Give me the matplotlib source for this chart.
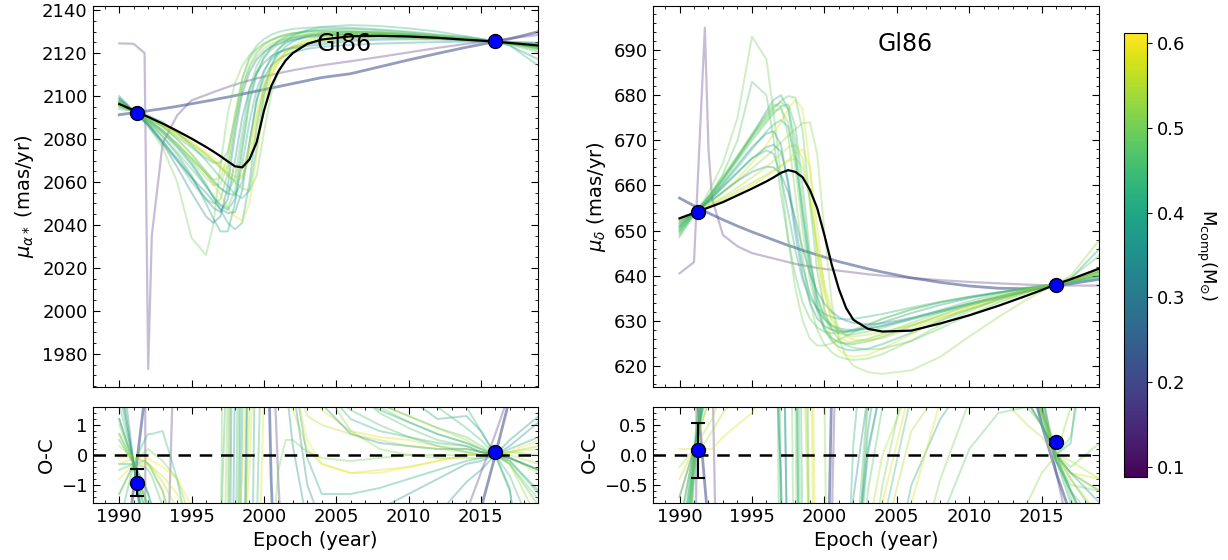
import matplotlib.pyplot as plt
import numpy as np
from matplotlib import cm, colors
from matplotlib.ticker import AutoMinorLocator, MultipleLocator

epoch = [1990, 1991, 1991.75, 1992, 1992.25, 1993, 1994, 1995, 1996, 1996.5,
         1997, 1997.5, 1998, 1998.5, 1999, 1999.5, 2000, 2000.5, 2001, 2001.5,
         2002, 2003, 2004, 2006, 2008, 2010, 2012, 2014, 2015, 2016, 2017, 2019]

# best fit orbit (black)
best_ra = [2096.3, 2093.3, 2091.0, 2090.3, 2089.5, 2087.2, 2083.8, 2080.2, 2076.3, 2074.2,
           2072.0, 2069.6, 2067.3, 2066.8, 2070.5, 2078.5, 2093.0, 2104.5, 2111.5, 2116.5,
           2120.0, 2124.3, 2126.3, 2127.8, 2128.0, 2127.7, 2127.1, 2126.2, 2125.8, 2125.3, 2124.7, 2123.5]
best_dec = [652.7, 653.9, 654.8, 655.1, 655.4, 656.3, 657.8, 659.3, 660.9, 661.8,
            662.8, 663.4, 663.0, 661.8, 659.0, 655.0, 649.0, 642.5, 637.0, 632.8,
            630.2, 628.2, 627.6, 627.8, 629.4, 631.2, 633.3, 635.6, 636.8, 638.1, 639.2, 641.6]

# random orbit draws, companion mass (Msun) and proper motions
ra_mass = [0.14, 0.21, 0.50, 0.38, 0.40, 0.58, 0.47, 0.42, 0.52, 0.58, 0.45, 0.36, 0.43, 0.50,
           0.33, 0.48, 0.55, 0.40, 0.46, 0.60, 0.35, 0.53]
ra_draws = [
    [2124.5, 2124.3, 2120, 1973, 2035, 2078, 2091, 2098, 2100.5, 2101.8, 2103, 2104.2, 2105.3, 2106.3, 2107.3, 2108.2,
     2109, 2109.8, 2110.6, 2111.3, 2112, 2113.2, 2114.3, 2116.2, 2118.2, 2120.3, 2122.4, 2124.3, 2125.2, 2126, 2126.8, 2128.5],
    [2091.3, 2092.2, 2092.9, 2093.1, 2093.4, 2094.1, 2095.2, 2096.4, 2097.6, 2098.2, 2098.9, 2099.5, 2100.2, 2100.9, 2101.6, 2102.3,
     2103, 2103.7, 2104.4, 2105.1, 2105.8, 2107.2, 2108.6, 2110.4, 2113.6, 2116.8, 2119.8, 2122.7, 2124, 2125.3, 2126.6, 2130],
    [2099, 2093, 2088, 2086, 2083.5, 2076, 2060, 2034, 2026, 2040, 2068, 2092, 2106, 2114, 2119, 2122,
     2124.5, 2126, 2127.5, 2128.5, 2129.2, 2130, 2130.3, 2130.2, 2129.6, 2128.8, 2127.8, 2126.6, 2126.0, 2125.3, 2124.4, 2122.0],
    [2097.5, 2093, 2089.2, 2088, 2086.3, 2081, 2073, 2063, 2050, 2043, 2037, 2037, 2050, 2075, 2097, 2110,
     2118, 2122.5, 2125.5, 2127.5, 2128.8, 2130.3, 2131, 2131.3, 2130.6, 2129.6, 2128.3, 2127.5, 2126.6, 2125.3, 2123.5, 2117],
    [2096, 2093, 2090, 2089, 2087.8, 2084, 2077, 2069, 2059, 2053, 2047, 2041, 2038, 2041, 2060, 2086,
     2104, 2114, 2119.5, 2123, 2125.3, 2128, 2129.2, 2129.8, 2129.5, 2128.8, 2127.8, 2126.6, 2126.0, 2125.3, 2124.5, 2122.3],
    [2095.5, 2093, 2090.7, 2090, 2089, 2086, 2080, 2073, 2064, 2059, 2054, 2048, 2044, 2042, 2050, 2072,
     2095, 2109, 2116, 2120.5, 2123.3, 2126.5, 2127.8, 2128.6, 2128.6, 2128.2, 2127.4, 2126.4, 2125.9, 2125.3, 2124.6, 2122.9],
    [2098, 2093, 2088.5, 2087, 2085, 2079, 2070, 2060, 2052, 2050, 2052, 2064, 2086, 2104, 2114, 2120,
     2123.8, 2126, 2127.6, 2128.6, 2129.3, 2130, 2130.2, 2130, 2129.4, 2128.6, 2127.6, 2126.5, 2125.9, 2125.3, 2124.6, 2123],
    [2096.8, 2093, 2090, 2089, 2087.8, 2084, 2078, 2071, 2064, 2060, 2057, 2054.5, 2054, 2060, 2078, 2098,
     2111, 2118, 2122, 2124.5, 2126, 2127.8, 2128.6, 2129, 2128.8, 2128.3, 2127.5, 2126.5, 2125.9, 2125.3, 2124.6, 2123],
    [2097, 2093, 2089.6, 2088.5, 2087.1, 2083, 2077, 2070, 2062, 2058.5, 2059, 2068, 2088, 2104, 2113, 2118.5,
     2122, 2124.3, 2125.8, 2126.8, 2127.5, 2128.3, 2128.6, 2128.6, 2128.2, 2127.7, 2127, 2126.1, 2125.7, 2125.3, 2124.8, 2123.8],
    [2096, 2093.2, 2090.8, 2090, 2089.1, 2086.5, 2082.5, 2078, 2073, 2070, 2067.5, 2064.5, 2062.5, 2063, 2070, 2084,
     2100, 2110, 2115.5, 2119, 2121.5, 2124.5, 2126, 2127.2, 2127.5, 2127.3, 2126.9, 2126.2, 2125.8, 2125.3, 2124.8, 2123.7],
    [2095, 2093, 2090.8, 2090, 2089, 2086, 2081, 2076, 2071, 2069, 2069, 2074, 2090, 2108, 2118, 2123.5,
     2126.5, 2128.5, 2129.8, 2130.6, 2131.2, 2131.8, 2132, 2131.8, 2131, 2130, 2128.7, 2127.1, 2126.3, 2125.3, 2124, 2120.5],
    [2100, 2093, 2087.8, 2086, 2084, 2078, 2070, 2062, 2055, 2051, 2047.5, 2045.5, 2046, 2056, 2078, 2098,
     2108.5, 2114, 2117, 2119, 2120.3, 2122, 2122.9, 2123.8, 2124.4, 2124.8, 2125.1, 2125.3, 2125.3, 2125.3, 2125.2, 2124.8],
    [2094, 2093, 2091.5, 2091, 2090.2, 2088, 2083, 2077, 2070, 2066, 2062, 2058, 2054.5, 2052.5, 2056, 2076,
     2100, 2114, 2121.5, 2125.5, 2128, 2130.8, 2132.2, 2133, 2132.6, 2131.5, 2130, 2127.8, 2126.6, 2125.3, 2123.6, 2114],
    [2095, 2093, 2091.1, 2090.5, 2089.6, 2087, 2083, 2078, 2073, 2070, 2067, 2063.5, 2060, 2057, 2056, 2063,
     2083, 2101, 2111, 2117, 2120.5, 2124.4, 2126.2, 2127.6, 2127.9, 2127.7, 2127.1, 2126.2, 2125.8, 2125.3, 2124.8, 2123.5],
    [2098.5, 2093, 2088.5, 2087, 2084.8, 2078, 2067, 2055, 2044, 2041, 2044, 2058, 2082, 2101, 2111, 2117,
     2120.5, 2122.8, 2124.3, 2125.4, 2126.2, 2127.4, 2128, 2128.5, 2128.4, 2128, 2127.3, 2126.4, 2125.9, 2125.3, 2124.6, 2123],
    [2097, 2093, 2089.2, 2088, 2086.4, 2081.5, 2074, 2066, 2058, 2053.5, 2049.5, 2048, 2056, 2078, 2099, 2111,
     2117.5, 2121.5, 2124, 2125.7, 2127, 2128.7, 2129.5, 2130, 2129.7, 2129, 2128, 2126.8, 2126.1, 2125.3, 2124.4, 2121.8],
    [2096.6, 2093.2, 2090.8, 2090, 2089.1, 2086.3, 2082, 2077, 2072, 2069.5, 2066.5, 2063, 2060.5, 2062, 2072, 2090,
     2104, 2112, 2117, 2120.5, 2122.8, 2125.6, 2127.3, 2128.5, 2128.5, 2128.0, 2127.3, 2126.3, 2125.8, 2125.3, 2124.7, 2123.2],
    [2097.5, 2093, 2089.6, 2088.6, 2087.3, 2083, 2076, 2068, 2058, 2053, 2049, 2047, 2052, 2068, 2088, 2103,
     2112, 2117, 2120, 2121.8, 2122.9, 2124.2, 2125, 2126.5, 2126.9, 2126.9, 2126.6, 2126.0, 2125.7, 2125.3, 2124.9, 2124.1],
    [2095.8, 2093, 2090.6, 2089.8, 2088.8, 2085.5, 2080, 2073, 2065, 2061, 2057, 2055, 2062, 2083, 2103, 2114,
     2120, 2123.3, 2125.2, 2126.4, 2127.2, 2128.1, 2128.5, 2129.3, 2129.0, 2128.3, 2127.4, 2126.3, 2125.8, 2125.3, 2124.5, 2122.2],
    [2096.2, 2093.3, 2090.9, 2090.2, 2089.3, 2086.8, 2083, 2078.5, 2074, 2071.5, 2069, 2066.5, 2064.5, 2066, 2076, 2092,
     2106, 2113, 2117.5, 2120.5, 2122.5, 2124.8, 2126.0, 2127.2, 2127.4, 2127.3, 2126.9, 2126.2, 2125.8, 2125.3, 2124.8, 2124.0],
    [2099, 2093, 2088.3, 2086.8, 2085, 2079, 2071, 2062, 2052, 2048, 2046, 2052, 2070, 2090, 2103, 2111,
     2115.5, 2118.5, 2120.3, 2121.5, 2122.3, 2123.3, 2124.0, 2125.6, 2126.2, 2126.4, 2126.3, 2125.9, 2125.6, 2125.3, 2125.0, 2124.6],
    [2097.3, 2093, 2089.6, 2088.7, 2087.4, 2083.5, 2077.5, 2071, 2064, 2061, 2062, 2072, 2092, 2108, 2117, 2121.5,
     2124.3, 2126, 2127.1, 2127.9, 2128.4, 2129, 2129.3, 2130.0, 2129.7, 2129.0, 2128.0, 2126.7, 2126.0, 2125.3, 2124.4, 2121.3],
]

dec_mass = [0.14, 0.21, 0.50, 0.47, 0.40, 0.58, 0.52, 0.36, 0.45, 0.55, 0.42, 0.48, 0.33, 0.50,
            0.55, 0.43, 0.50, 0.38, 0.58, 0.47]
dec_draws = [
    [640.5, 643, 695, 668, 657, 649, 646.5, 645, 644.2, 643.8, 643.4, 643, 642.6, 642.3, 642, 641.7,
     641.5, 641.3, 641.1, 640.9, 640.7, 640.3, 640, 639.5, 639, 638.6, 638.3, 638, 637.9, 637.8, 637.8, 637.8],
    [657.2, 655.5, 654.3, 653.9, 653.5, 652.4, 651, 649.7, 648.5, 647.9, 647.3, 646.7, 646.2, 645.6, 645.1, 644.6,
     644.1, 643.6, 643.1, 642.7, 642.3, 641.5, 640.8, 639.5, 638.5, 637.7, 637.2, 637.1, 637.3, 637.8, 638.2, 639.2],
    [650, 653.8, 657, 658.5, 660, 665, 675, 693, 688, 676, 662, 648, 637, 630, 626, 624.5,
     624.5, 625, 625.8, 626.6, 627.4, 629, 630.4, 632.5, 634, 635.2, 636.2, 637.1, 637.5, 638.0, 638.7, 641],
    [651, 654, 656.5, 657.5, 658.5, 662.5, 670, 683, 680, 670, 658, 648, 640, 634, 630.5, 628.5,
     627.5, 627.2, 627.3, 627.6, 628, 629.2, 630.4, 632.5, 634.1, 635.3, 636.3, 637.2, 637.6, 638.0, 638.6, 640.4],
    [649, 653.6, 656.5, 657.5, 658.5, 661.5, 666, 671, 676.5, 679, 680, 677, 667, 653, 641, 633,
     628, 625.5, 624.2, 623.6, 623.4, 623.8, 624.8, 627.3, 630, 632.5, 634.7, 636.5, 637.3, 638.1, 639.4, 646],
    [652, 654, 655.5, 656, 656.5, 658.5, 661.5, 665, 669, 671.5, 674, 677, 679, 677, 664, 645,
     632, 626, 623.5, 622.4, 622, 622.4, 623.8, 627, 630.3, 633, 635.2, 636.9, 637.5, 638.1, 638.9, 641.2],
    [651.5, 654, 655.5, 656, 656.7, 658.5, 661, 663.8, 666.5, 668, 669.5, 671, 672.5, 673.8, 674, 667,
     650, 634, 626, 622, 620, 618.6, 618.2, 619, 622, 626.5, 630.8, 634.8, 636.5, 638.1, 640, 648],
    [650.5, 653.8, 656, 656.8, 657.6, 660.5, 664.5, 668.5, 671.5, 672, 669, 660, 649, 640, 634, 630.5,
     628.8, 628, 627.6, 627.6, 627.8, 628.6, 629.6, 631.7, 633.5, 635, 636.2, 637.2, 637.6, 638.1, 638.6, 640],
    [649.5, 653.7, 656, 657, 658, 661, 665.5, 670, 674, 676, 677.5, 678, 673, 660, 645, 634,
     628.5, 626.2, 625.2, 624.8, 624.8, 625.4, 626.4, 628.8, 631.2, 633.4, 635.3, 636.9, 637.5, 638.1, 638.9, 641],
    [652.3, 654, 655, 655.4, 655.8, 657, 658.8, 660.6, 662.4, 663.4, 664.4, 665.4, 666, 664, 657, 647,
     638, 632, 628.5, 626.6, 625.8, 625.6, 626.1, 628.2, 630.5, 632.7, 634.7, 636.5, 637.3, 638.1, 638.9, 641],
    [650.8, 653.8, 655.8, 656.5, 657.2, 659.8, 663, 666, 667.8, 667, 662, 654, 645.5, 639, 635, 632.8,
     631.5, 630.8, 630.4, 630.3, 630.4, 630.9, 631.5, 632.9, 634.2, 635.3, 636.3, 637.2, 637.6, 638.0, 638.4, 639.3],
    [648.5, 653.5, 656.5, 657.6, 658.7, 662, 666.5, 671, 675, 677, 678.8, 679.8, 679.5, 672, 656, 641,
     632.5, 628, 625.8, 624.6, 624, 623.6, 623.8, 625.5, 628.3, 631.3, 634, 636.4, 637.3, 638.1, 639.5, 644.5],
    [652, 654, 655.7, 656.3, 656.8, 658.6, 661, 663, 664.2, 664, 662.5, 658.5, 652.5, 646, 640.5, 636.5,
     633.8, 632, 630.8, 630, 629.5, 629.2, 629.4, 630.6, 632.2, 633.8, 635.3, 636.8, 637.4, 638.0, 638.6, 640],
    [650, 653.8, 656, 657, 658, 661.5, 666.5, 671.5, 676, 678, 677.5, 671, 658, 644, 634, 628,
     624.8, 623, 622, 621.5, 621.3, 621.6, 622.6, 625.6, 629, 632.1, 634.8, 636.8, 637.5, 638.1, 639, 641.8],
    [652.5, 654, 655.2, 655.6, 656, 657.4, 659.5, 661.8, 664, 665.5, 667, 668.5, 669, 666, 657, 645,
     636, 630.5, 627.8, 626.8, 626.5, 626.9, 627.6, 629, 630.8, 632.5, 634.3, 636.1, 637.1, 638.1, 639.1, 641.2],
    [651, 653.9, 656, 656.8, 657.6, 660.2, 664, 668, 672, 673.5, 674.5, 673, 666, 654, 643, 635.5,
     631, 628.8, 627.8, 627.5, 627.6, 628.2, 628.9, 630.6, 632.2, 633.8, 635.2, 636.8, 637.5, 638.1, 638.8, 640.5],
    [650.3, 653.8, 656.3, 657.3, 658.2, 661.5, 666, 670.5, 674.5, 676.5, 677, 674, 664, 650, 639, 632,
     628, 626, 625.2, 625, 625.2, 626, 627.1, 629.5, 631.8, 633.8, 635.6, 637.2, 637.7, 638.1, 638.6, 639.8],
    [651.5, 654, 655.9, 656.6, 657.3, 659.6, 662.8, 666, 668.5, 669, 667.5, 661, 651, 642, 636, 632.5,
     630.3, 629, 628.3, 628, 628, 628.3, 628.8, 630.3, 631.9, 633.5, 635, 636.5, 637.3, 638.1, 638.9, 640.8],
    [652.8, 654, 654.9, 655.2, 655.5, 656.6, 658.3, 660, 662, 663, 664.2, 665.6, 667.2, 668, 664, 651,
     637, 629.5, 626.5, 625.5, 625.3, 625.8, 626.8, 629.0, 631.2, 633.3, 635.2, 636.9, 637.5, 638.1, 638.8, 640.6],
    [649.8, 653.7, 656.2, 657.2, 658.2, 661.5, 666.2, 671, 675.5, 677.5, 678.5, 677, 670, 656, 643, 635,
     630.5, 628.2, 627.2, 626.9, 627, 627.6, 628.4, 630.4, 632.4, 634.3, 636, 637.4, 637.8, 638.1, 638.5, 639.6],
]

for d in ra_draws + dec_draws:
    assert len(d) == len(epoch)

# measurements (Hipparcos, Gaia) and their O-C
obs_epoch = [1991.25, 2016.0]
obs_ra = [2092.3, 2125.4]
obs_ra_oc = [-0.92, 0.10]
obs_ra_oc_err = [0.45, 0.04]
obs_dec = [654.2, 637.9]
obs_dec_oc = [0.08, 0.21]
obs_dec_oc_err = [0.46, 0.05]

W, H = 1228, 560
fig = plt.figure(figsize=(W / 100, H / 100), dpi=100)


def box(x0, y0, x1, y1):
    return [x0 / W, 1 - y1 / H, (x1 - x0) / W, (y1 - y0) / H]


norm = colors.Normalize(vmin=0.088, vmax=0.612)
cmap = plt.get_cmap('viridis')
ep = np.array(epoch)


def style(ax):
    ax.tick_params(which='both', direction='in', top=True, right=True, labelsize=13)
    ax.tick_params(which='major', length=5)
    ax.tick_params(which='minor', length=2.5)
    ax.xaxis.set_major_locator(MultipleLocator(5))
    ax.xaxis.set_minor_locator(MultipleLocator(1))
    ax.yaxis.set_minor_locator(AutoMinorLocator())
    ax.set_xlim(1988.15, 2018.95)


panels = [
    (box(92.5, 6, 538, 387), box(92.5, 407, 538, 503), best_ra, ra_draws, ra_mass,
     obs_ra, obs_ra_oc, obs_ra_oc_err, (1964.6, 2141.9), (-1.6, 1.6),
     r'$\mu_{\alpha*}$ (mas/yr)', 20, 1),
    (box(652.7, 6, 1099, 387), box(652.7, 407, 1099, 503), best_dec, dec_draws, dec_mass,
     obs_dec, obs_dec_oc, obs_dec_oc_err, (615.3, 699.8), (-0.8, 0.8),
     r'$\mu_{\delta}$ (mas/yr)', 10, 0.5),
]

for (pbox, rbox, best, draws, mass, obs, oc, oc_err, ylim, rlim, ylab, ystep, rstep) in panels:
    ax = fig.add_axes(pbox)
    rx = fig.add_axes(rbox)
    best = np.array(best)
    for m, d in zip(mass, draws):
        d = np.array(d)
        c = cmap(norm(m))
        if m < 0.18:
            lw, a = 1.6, 0.3
        elif m < 0.3:
            lw, a = 2.0, 0.55
        else:
            lw, a = 1.4, 0.35
        ax.plot(ep, d, color=c, lw=lw, alpha=a)
        rx.plot(ep, d - best, color=c, lw=lw, alpha=a)
    ax.plot(ep, best, color='black', lw=1.6, zorder=5)
    ax.plot(obs_epoch, obs, 'o', color='blue', mec='black', ms=10, zorder=10)
    rx.axhline(0, color='black', ls='--', lw=1.8, dashes=(5, 3.5), zorder=5)
    rx.errorbar(obs_epoch, oc, yerr=oc_err, fmt='o', color='blue', mec='black', ms=10,
                ecolor='black', elinewidth=1.5, capsize=5, capthick=1.5, zorder=10)
    ax.text(0.565, 0.9, 'Gl86', transform=ax.transAxes, ha='center', va='center', fontsize=17)
    style(ax)
    style(rx)
    ax.set_ylim(*ylim)
    ax.yaxis.set_major_locator(MultipleLocator(ystep))
    ax.tick_params(labelbottom=False)
    rx.set_ylim(*rlim)
    rx.yaxis.set_major_locator(MultipleLocator(rstep))
    ax.set_ylabel(ylab, fontsize=14)
    rx.set_ylabel('O-C', fontsize=14)
    rx.set_xlabel('Epoch (year)', fontsize=14)

cax = fig.add_axes(box(1124, 33, 1147, 477))
cb = fig.colorbar(cm.ScalarMappable(norm=norm, cmap=cmap), cax=cax)
cb.set_ticks([0.1, 0.2, 0.3, 0.4, 0.5, 0.6])
cb.ax.tick_params(labelsize=13)
cb.set_label(r'$\mathrm{M_{comp} (M_{\odot})}$', rotation=270, labelpad=24, fontsize=13)

fig.savefig('out.png', dpi=100)
